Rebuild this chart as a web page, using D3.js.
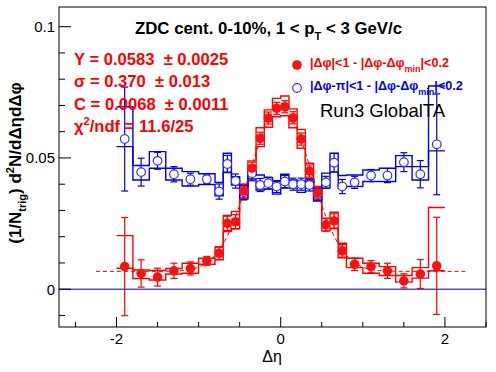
<!DOCTYPE html>
<html lang="en">
<head>
<meta charset="UTF-8"/>
<title>Delta eta projection</title>
<script src="https://d3js.org/d3.v7.min.js"></script>
<style>
    body { margin: 0; background: #fff; }
    svg { display: block; font-family: "Liberation Sans", Arial, sans-serif; }
    text { white-space: pre; }
</style>
</head>
<body>
<div id="chart"></div>
<script>
    // bin edges in delta eta (0.2 wide outside, 0.1 wide in the middle)
    var binEdges = [-2.0, -1.8, -1.6, -1.4, -1.2, -1.0, -0.8, -0.7, -0.6, -0.5, -0.4, -0.3, -0.2, -0.1, 0.0,
                    0.1, 0.2, 0.3, 0.4, 0.5, 0.6, 0.7, 0.8, 1.0, 1.2, 1.4, 1.6, 1.8, 2.0];

    // near side |dphi|<1
    var nearY   = [0.0086, 0.0060, 0.0046, 0.0070, 0.0079, 0.0108, 0.0137, 0.0251, 0.0257, 0.0374, 0.0461, 0.0575, 0.0652, 0.0689,
                   0.0695, 0.0653, 0.0572, 0.0450, 0.0366, 0.0245, 0.0260, 0.0146, 0.0095, 0.0086, 0.0070, 0.0032, 0.0058, 0.0089];
    var nearErr = [0.0187, 0.0052, 0.0034, 0.0029, 0.0025, 0.0017, 0.0024, 0.0027, 0.0027, 0.0027, 0.0023, 0.0023, 0.0023, 0.0023,
                   0.0023, 0.0023, 0.0023, 0.0023, 0.0023, 0.0024, 0.0027, 0.0024, 0.0024, 0.0023, 0.0029, 0.0027, 0.0055, 0.0185];
    var nearSysHi = [0.0204, 0.0073, 0.0071, 0.0079, 0.0099, 0.0118, 0.0161, 0.0281, 0.0296, 0.0393, 0.0489, 0.0615, 0.0683, 0.0727,
                     0.0736, 0.0687, 0.0609, 0.0480, 0.0391, 0.0270, 0.0293, 0.0175, 0.0118, 0.0099, 0.0086, 0.0052, 0.0082, 0.0311];
    var nearSysLo = [0.0080, 0.0041, 0.0035, 0.0058, 0.0061, 0.0095, 0.0112, 0.0220, 0.0230, 0.0342, 0.0433, 0.0543, 0.0617, 0.0657,
                     0.0661, 0.0615, 0.0537, 0.0423, 0.0340, 0.0222, 0.0230, 0.0120, 0.0082, 0.0061, 0.0052, 0.0027, 0.0042, 0.0070];

    // away side |dphi-pi|<1
    var awayY   = [0.0572, 0.0446, 0.0489, 0.0438, 0.0419, 0.0419, 0.0372, 0.0477, 0.0412, 0.0369, 0.0442, 0.0397, 0.0404, 0.0391,
                   0.0410, 0.0400, 0.0400, 0.0397, 0.0362, 0.0407, 0.0482, 0.0391, 0.0407, 0.0433, 0.0433, 0.0484, 0.0438, 0.0552];
    var awayErr = [0.0198, 0.0053, 0.0032, 0.0029, 0.0023, 0.0016, 0.0029, 0.0033, 0.0027, 0.0029, 0.0029, 0.0025, 0.0023, 0.0023,
                   0.0023, 0.0023, 0.0023, 0.0023, 0.0023, 0.0023, 0.0035, 0.0027, 0.0023, 0.0023, 0.0027, 0.0036, 0.0052, 0.0192];
    var awaySysHi = [0.0695, 0.0471, 0.0524, 0.0461, 0.0448, 0.0440, 0.0407, 0.0518, 0.0429, 0.0397, 0.0448, 0.0435, 0.0425, 0.0410,
                     0.0438, 0.0416, 0.0410, 0.0416, 0.0385, 0.0442, 0.0518, 0.0433, 0.0435, 0.0454, 0.0461, 0.0509, 0.0467, 0.0774];
    var awaySysLo = [0.0543, 0.0416, 0.0461, 0.0416, 0.0393, 0.0399, 0.0356, 0.0446, 0.0397, 0.0347, 0.0420, 0.0378, 0.0382, 0.0362,
                     0.0385, 0.0385, 0.0369, 0.0385, 0.0336, 0.0385, 0.0446, 0.0385, 0.0391, 0.0410, 0.0410, 0.0467, 0.0416, 0.0527];

    // gaussian + constant fit curve
    var fitX = [-2.25, -1.5, -1.2, -1.0, -0.9, -0.8, -0.7, -0.6, -0.5, -0.4, -0.3, -0.2, -0.1, 0.0,
                0.1, 0.2, 0.3, 0.4, 0.5, 0.6, 0.7, 0.8, 0.9, 1.0, 1.2, 1.5, 2.25];
    var fitY = [0.0068, 0.0068, 0.0071, 0.0084, 0.0101, 0.0129, 0.0173, 0.0237, 0.0320, 0.0418, 0.0521, 0.0611, 0.0674, 0.0697,
                0.0674, 0.0611, 0.0521, 0.0418, 0.0320, 0.0237, 0.0173, 0.0129, 0.0101, 0.0084, 0.0071, 0.0068, 0.0068];

    var xTicks = [-2, 0, 2];
    var yTicks = [0, 0.05, 0.1];
    var fitLines = ["Y = 0.0583  \u00b1 0.0025", "\u03c3 = 0.370  \u00b1 0.013", "C = 0.0068  \u00b1 0.0011"];

    var w = 496, h = 372;
    var frameL = 59, frameR = 486, frameT = 7, frameB = 327;

    var x = d3.scaleLinear().domain([-2.7, 2.5]).range([frameL, frameR]);
    var y = d3.scaleLinear().domain([-0.0144, 0.1075]).range([frameB, frameT]);

    var svg = d3.select("#chart").append("svg")
        .attr("width", w).attr("height", h);

    var centers = nearY.map(function(d, i) { return (binEdges[i] + binEdges[i + 1]) / 2; });

    // zero line
    svg.append("line")
        .attr("x1", frameL).attr("x2", frameR)
        .attr("y1", y(0)).attr("y2", y(0))
        .attr("stroke", "#000080").attr("stroke-width", 1);

    var stair = d3.line()
        .x(function(d) { return x(d[0]); })
        .y(function(d) { return y(d[1]); })
        .curve(d3.curveStepAfter);

    function stairPts(vals) {
        var pts = vals.map(function(v, i) { return [binEdges[i], v]; });
        pts.push([binEdges[binEdges.length - 1], vals[vals.length - 1]]);
        return pts;
    }

    function drawSys(hi, lo, col) {
        [hi, lo].forEach(function(vals) {
            svg.append("path")
                .attr("d", stair(stairPts(vals)))
                .attr("fill", "none")
                .attr("stroke", col)
                .attr("stroke-width", 1.4);
        });
    }
    drawSys(nearSysHi, nearSysLo, "#ff0000");
    drawSys(awaySysHi, awaySysLo, "#0000ee");

    // fit
    svg.append("path")
        .attr("d", d3.line()
            .x(function(d) { return x(d); })
            .y(function(d, i) { return y(fitY[i]); })
            .curve(d3.curveMonotoneX)(fitX))
        .attr("fill", "none")
        .attr("stroke", "#ff0000")
        .attr("stroke-width", 1)
        .attr("stroke-dasharray", "4,3");

    function drawErrors(vals, errs, col) {
        var g = svg.append("g").attr("stroke", col).attr("stroke-width", 1.2);
        vals.forEach(function(v, i) {
            var cx = x(centers[i]);
            g.append("line").attr("x1", cx).attr("x2", cx)
                .attr("y1", y(v - errs[i])).attr("y2", y(v + errs[i]));
            [v - errs[i], v + errs[i]].forEach(function(e) {
                g.append("line").attr("x1", cx - 3.5).attr("x2", cx + 3.5)
                    .attr("y1", y(e)).attr("y2", y(e));
            });
        });
    }
    drawErrors(awayY, awayErr, "#0000ee");
    drawErrors(nearY, nearErr, "#ff0000");

    svg.selectAll("circle.away")
        .data(awayY)
        .enter()
        .append("circle")
        .attr("class", "away")
        .attr("cx", function(d, i) { return x(centers[i]); })
        .attr("cy", function(d) { return y(d); })
        .attr("r", 4.3)
        .attr("fill", "#fff")
        .attr("stroke", "#3333ff")
        .attr("stroke-width", 1.2);

    svg.selectAll("circle.near")
        .data(nearY)
        .enter()
        .append("circle")
        .attr("class", "near")
        .attr("cx", function(d, i) { return x(centers[i]); })
        .attr("cy", function(d) { return y(d); })
        .attr("r", 4.8)
        .attr("fill", "#ff1010");

    // frame
    svg.append("rect")
        .attr("x", frameL).attr("y", frameT)
        .attr("width", frameR - frameL).attr("height", frameB - frameT)
        .attr("fill", "none").attr("stroke", "#000").attr("stroke-width", 1);

    // x ticks
    var xMinor = d3.range(-2.5, 2.51, 0.5);
    xMinor.forEach(function(t) {
        var major = xTicks.indexOf(Math.round(t * 10) / 10) >= 0;
        svg.append("line")
            .attr("x1", x(t)).attr("x2", x(t))
            .attr("y1", frameB).attr("y2", frameB - (major ? 10 : 5))
            .attr("stroke", "#000");
    });
    svg.selectAll("text.xt")
        .data(xTicks)
        .enter()
        .append("text")
        .attr("x", function(d) { return x(d); })
        .attr("y", 344)
        .attr("text-anchor", "middle")
        .attr("font-size", 15)
        .text(function(d) { return d; });

    // y ticks
    d3.range(-0.01, 0.1001, 0.01).forEach(function(t) {
        var major = Math.abs(t / 0.05 - Math.round(t / 0.05)) < 1e-6;
        svg.append("line")
            .attr("x1", frameL).attr("x2", frameL + (major ? 12 : 6))
            .attr("y1", y(t)).attr("y2", y(t))
            .attr("stroke", "#000");
    });
    svg.selectAll("text.yt")
        .data(yTicks)
        .enter()
        .append("text")
        .attr("x", 55)
        .attr("y", function(d) { return y(d) + 5.5; })
        .attr("text-anchor", "end")
        .attr("font-size", 15)
        .text(function(d) { return d; });

    // axis titles
    svg.append("text")
        .attr("x", 272).attr("y", 362)
        .attr("text-anchor", "middle")
        .attr("font-size", 16)
        .text("\u0394\u03b7");

    var yt = svg.append("text")
        .attr("transform", "translate(21,163) rotate(-90)")
        .attr("text-anchor", "middle")
        .attr("font-size", 17)
        .attr("font-weight", "bold");
    yt.append("tspan").text("(1/N");
    yt.append("tspan").attr("font-size", 11).attr("dy", 5).text("trig");
    yt.append("tspan").attr("dy", -5).text(") d");
    yt.append("tspan").attr("font-size", 11).attr("dy", -7).text("2");
    yt.append("tspan").attr("dy", 7).text("N/d\u0394\u03b7d\u0394\u03c6");

    // title
    var title = svg.append("text")
        .attr("x", 135).attr("y", 34)
        .attr("font-size", 16.8)
        .attr("font-weight", "bold");
    title.append("tspan").text("ZDC cent. 0-10%, 1 < p");
    title.append("tspan").attr("font-size", 11).attr("dy", 6).text("T");
    title.append("tspan").attr("dy", -6).text(" < 3 GeV/c");

    // fit results
    svg.selectAll("text.fit")
        .data(fitLines)
        .enter()
        .append("text")
        .attr("x", 74)
        .attr("y", function(d, i) { return 65 + i * 22.3; })
        .attr("font-size", 16.6)
        .attr("font-weight", "bold")
        .attr("fill", "#ff0000")
        .text(function(d) { return d; });
    var chi = svg.append("text")
        .attr("x", 74).attr("y", 132)
        .attr("font-size", 16.6)
        .attr("font-weight", "bold")
        .attr("fill", "#ff0000");
    chi.append("tspan").text("\u03c7");
    chi.append("tspan").attr("font-size", 11).attr("dy", -7).text("2");
    chi.append("tspan").attr("dy", 7).text("/ndf = 11.6/25");

    // legend
    svg.append("circle").attr("cx", 297).attr("cy", 65).attr("r", 4.8).attr("fill", "#ff1010");
    svg.append("circle").attr("cx", 297).attr("cy", 88).attr("r", 4.3)
        .attr("fill", "#fff").attr("stroke", "#3333ff").attr("stroke-width", 1.2);

    var l1 = svg.append("text").attr("x", 310).attr("y", 67)
        .attr("font-size", 12.6).attr("font-weight", "bold").attr("fill", "#ff0000");
    l1.append("tspan").text("|\u0394\u03c6|<1 - |\u0394\u03c6-\u0394\u03c6");
    l1.append("tspan").attr("font-size", 9).attr("dy", 5).text("min");
    l1.append("tspan").attr("dy", -5).text("|<0.2");

    var l2 = svg.append("text").attr("x", 310).attr("y", 90)
        .attr("font-size", 12.6).attr("font-weight", "bold").attr("fill", "#0000ee");
    l2.append("tspan").text("|\u0394\u03c6-\u03c0|<1 - |\u0394\u03c6-\u0394\u03c6");
    l2.append("tspan").attr("font-size", 9).attr("dy", 5).text("min");
    l2.append("tspan").attr("dy", -5).text("|<0.2");

    svg.append("text")
        .attr("x", 320).attr("y", 117)
        .attr("font-size", 18.5)
        .text("Run3 GlobalTA");
</script>
</body>
</html>
